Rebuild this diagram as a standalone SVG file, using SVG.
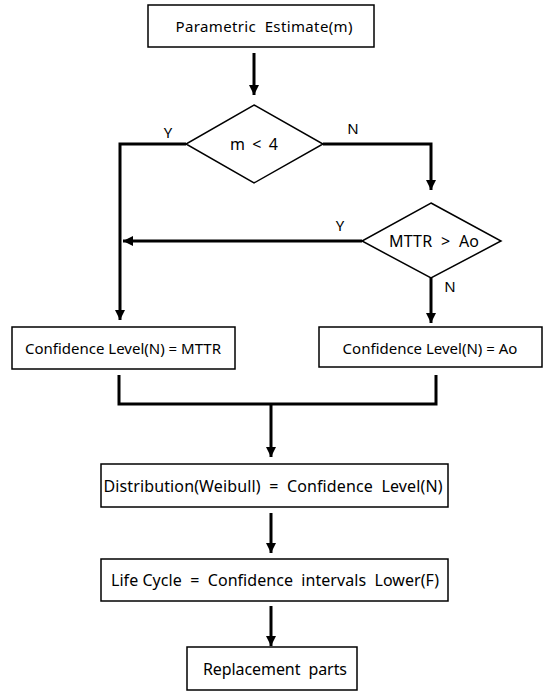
<svg xmlns="http://www.w3.org/2000/svg" width="546" height="692" viewBox="0 0 546 692">
<defs>
<marker id="ah" viewBox="0 0 10 10" refX="10" refY="5" markerWidth="10" markerHeight="10" markerUnits="userSpaceOnUse" orient="auto">
<path d="M0,0 L10,5 L0,10 Z" fill="#000"/>
</marker>
<style>
.box{fill:#fff;stroke:#000;stroke-width:1.5}
.t{font-family:"Noto Sans","Open Sans",sans-serif;font-size:15px;fill:#000;text-anchor:middle;dominant-baseline:central;white-space:pre}
.b{font-size:16px}
.c{fill:none;stroke:#000;stroke-width:3}
</style>
</defs>
<rect width="546" height="692" fill="#fff"/>
<g id="connectors">
<path class="c" d="M254,53 V95" marker-end="url(#ah)"/>
<path class="c" d="M186,144 H120 V320" marker-end="url(#ah)"/>
<path class="c" d="M323,144 H431 V190" marker-end="url(#ah)"/>
<path class="c" d="M362,241 H123" marker-end="url(#ah)"/>
<path class="c" d="M431,278 V323" marker-end="url(#ah)"/>
<path class="c" d="M119,375 V404 H436 V375"/>
<path class="c" d="M271,404 V457" marker-end="url(#ah)"/>
<path class="c" d="M271,513 V553" marker-end="url(#ah)"/>
<path class="c" d="M271,606 V646" marker-end="url(#ah)"/>
<text class="t" x="168" y="132">Y</text>
<text class="t" x="353" y="128">N</text>
<text class="t" x="340" y="225">Y</text>
<text class="t" x="450" y="286">N</text>
</g>
<g id="n1"><rect class="box" x="148" y="5" width="226" height="42"/><text class="t" x="264" y="26" xml:space="preserve" textLength="177" lengthAdjust="spacing">Parametric  Estimate(m)</text></g>
<g id="n2"><path class="box" d="M254,105 L323,144 L254,183 L186,144 Z"/><text class="t b" x="254" y="144" xml:space="preserve" textLength="48" lengthAdjust="spacing">m  &lt;  4</text></g>
<g id="n3"><path class="box" d="M431,203 L501,241 L431,278 L362,241 Z"/><text class="t b" x="434" y="241" xml:space="preserve" textLength="90" lengthAdjust="spacing">MTTR  &gt;  Ao</text></g>
<g id="n4"><rect class="box" x="12" y="327" width="223" height="42"/><text class="t" x="123" y="348">Confidence Level(N) = MTTR</text></g>
<g id="n5"><rect class="box" x="319" y="327" width="223" height="40"/><text class="t" x="430" y="348">Confidence Level(N) = Ao</text></g>
<g id="n6"><rect class="box" x="101" y="464" width="347" height="43"/><text class="t b" x="273" y="486" xml:space="preserve" textLength="339" lengthAdjust="spacing">Distribution(Weibull)  =  Confidence  Level(N)</text></g>
<g id="n7"><rect class="box" x="101" y="559" width="347" height="42"/><text class="t b" x="275" y="580" xml:space="preserve" textLength="328" lengthAdjust="spacing">Life Cycle  =  Confidence  intervals  Lower(F)</text></g>
<g id="n8"><rect class="box" x="187" y="647" width="170" height="43"/><text class="t b" x="275" y="669" xml:space="preserve" textLength="144" lengthAdjust="spacing">Replacement  parts</text></g>
</svg>
